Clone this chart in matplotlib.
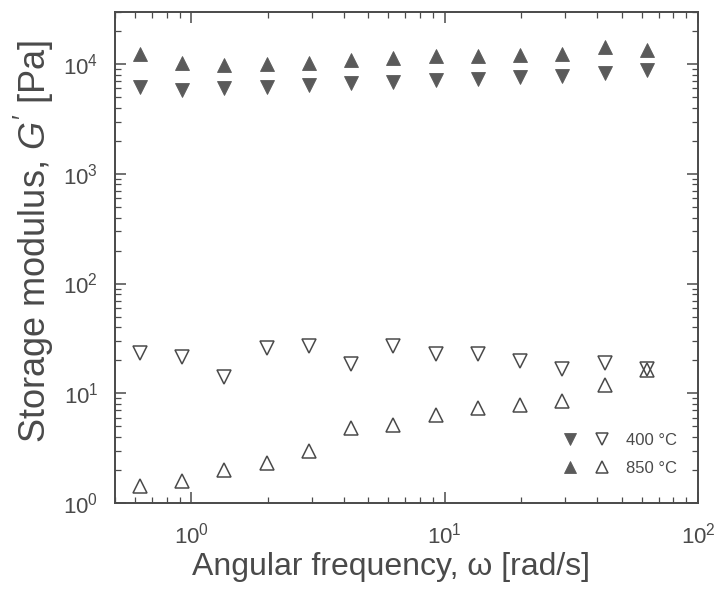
import matplotlib
matplotlib.use("Agg")
import matplotlib.pyplot as plt
from matplotlib.legend_handler import HandlerTuple
from matplotlib.ticker import LogLocator, LogFormatterMathtext, NullFormatter

plt.rcParams["font.family"] = ["Liberation Sans", "DejaVu Sans"]
plt.rcParams["mathtext.fontset"] = "custom"
plt.rcParams["mathtext.rm"] = "Liberation Sans"
plt.rcParams["mathtext.it"] = "Liberation Sans:italic"

# angular frequency sweep, rad/s
omega = [0.628, 0.922, 1.35, 1.99, 2.92, 4.28, 6.28, 9.22, 13.5, 19.9, 29.2, 42.8, 62.8]

# storage modulus G' [Pa]
g400_filled = [6140, 5800, 6000, 6140, 6430, 6680, 6920, 7210, 7320, 7570, 7850, 8280, 8800]
g850_filled = [12400, 10200, 9750, 10040, 10280, 10930, 11390, 11760, 11960, 12210, 12400, 14220, 13500]
g400_open = [23.5, 21.5, 14.2, 26.0, 27.0, 18.5, 27.0, 23.0, 23.0, 19.5, 16.5, 19.0, 16.5]
g850_open = [1.42, 1.57, 1.98, 2.33, 2.99, 4.86, 5.13, 6.29, 7.38, 7.86, 8.49, 11.9, 16.4]

ink = "#4a4a4a"
fill = "#5a5a5a"
ms = 10.5

fig = plt.figure(figsize=(7.21, 5.91), dpi=100)
ax = fig.add_axes([0.1595, 0.149, 0.8085, 0.831])

h400f, = ax.plot(omega, g400_filled, "v", ms=ms, mfc=fill, mec=fill, mew=0.6, ls="none")
h850f, = ax.plot(omega, g850_filled, "^", ms=ms, mfc=fill, mec=fill, mew=0.6, ls="none")
h400o, = ax.plot(omega, g400_open, "v", ms=ms, mfc="none", mec=ink, mew=1.1, ls="none")
h850o, = ax.plot(omega, g850_open, "^", ms=ms, mfc="none", mec=ink, mew=1.1, ls="none")

ax.set_xscale("log")
ax.set_yscale("log")
ax.set_xlim(0.5, 100)
ax.set_ylim(1, 3e4)

for axis in (ax.xaxis, ax.yaxis):
    axis.set_major_locator(LogLocator(base=10))
    axis.set_minor_locator(LogLocator(base=10, subs=range(2, 10)))
    axis.set_major_formatter(LogFormatterMathtext())
    axis.set_minor_formatter(NullFormatter())

ax.tick_params(which="both", direction="in", top=True, right=True,
               colors=ink, labelcolor=ink, labelsize=16)
ax.tick_params(which="major", length=8, width=1.1)
ax.tick_params(axis="x", which="major", pad=14)
ax.tick_params(axis="y", which="major", pad=12)
ax.tick_params(which="minor", length=4, width=0.9)
for sp in ax.spines.values():
    sp.set_color(ink)
    sp.set_linewidth(1.4)

ax.set_xlabel("Angular frequency, ω [rad/s]", fontsize=23, color=ink, labelpad=3)
ax.set_ylabel("Storage modulus, $G'$ [Pa]", fontsize=26, color=ink, labelpad=5)
ax.xaxis.label.set_x(0.474)
ax.yaxis.label.set_y(0.533)

ax.legend([(h400f, h400o), (h850f, h850o)], ["400 °C", "850 °C"],
          handler_map={tuple: HandlerTuple(ndivide=None, pad=0.9)},
          loc="lower right", bbox_to_anchor=(0.99, 0.025), frameon=False,
          fontsize=12, labelcolor=ink, handlelength=3.0, handletextpad=0.9,
          labelspacing=0.75, markerscale=0.85)

fig.savefig("out.png", dpi=100)
